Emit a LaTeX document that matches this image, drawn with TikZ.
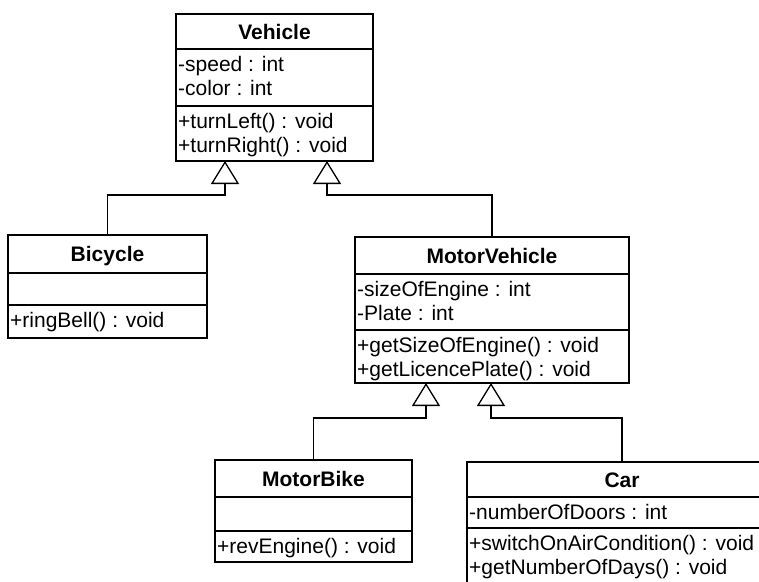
\documentclass[tikz,border=0pt]{standalone}
\usepackage{fontspec}
\setmainfont{Liberation Sans}
\usetikzlibrary{arrows.meta}
\tikzset{
  cls/.style={draw, line width=1.3pt, rectangle, inner sep=0pt, outer sep=0pt},
  txt/.style={anchor=base west, inner sep=0pt, font=\fontsize{21}{24}\selectfont},
  ttl/.style={anchor=base, inner sep=0pt, font=\fontsize{21}{24}\selectfont\bfseries},
  sepline/.style={line width=1.3pt},
  gen/.style={line width=1.3pt, -{Triangle[open, length=23pt, width=28pt]}},
}
\begin{document}
\begin{tikzpicture}[x=1pt,y=-1pt]
\useasboundingbox (0,0) rectangle (759,581);
\clip (0,0) rectangle (759,581);
\fill[white] (0,0) rectangle (759,581);

% Vehicle
\node[cls, minimum width=197pt, minimum height=147pt] (vehicle) at (274.5,87.5) {};
\draw[sepline] (176,49) -- (373,49);
\draw[sepline] (176,106) -- (373,106);
\node[ttl] (vehT) at (274.5,39) {Vehicle};
\node[txt] (vehA1) at (178,71) {-speed : int};
\node[txt] (vehA2) at (178,95) {-color : int};
\node[txt] (vehM1) at (178,128) {+turnLeft() : void};
\node[txt] (vehM2) at (178,152) {+turnRight() : void};

% Bicycle
\node[cls, minimum width=199pt, minimum height=103pt] (bicycle) at (107.5,286.5) {};
\draw[sepline] (8,273) -- (207,273);
\draw[sepline] (8,305) -- (207,305);
\node[ttl] (bicT) at (107.5,261.5) {Bicycle};
\node[txt] (bicM1) at (10,327) {+ringBell() : void};

% MotorVehicle
\node[cls, minimum width=274pt, minimum height=146pt] (motorvehicle) at (492,310) {};
\draw[sepline] (355,274) -- (629,274);
\draw[sepline] (355,330) -- (629,330);
\node[ttl] (mvT) at (492,263) {MotorVehicle};
\node[txt] (mvA1) at (357,296) {-sizeOfEngine : int};
\node[txt] (mvA2) at (357,320) {-Plate : int};
\node[txt] (mvM1) at (357,352) {+getSizeOfEngine() : void};
\node[txt] (mvM2) at (357,376) {+getLicencePlate() : void};

% MotorBike
\node[cls, minimum width=197pt, minimum height=102pt] (motorbike) at (313.5,511) {};
\draw[sepline] (215,497) -- (412,497);
\draw[sepline] (215,531) -- (412,531);
\node[ttl] (mbT) at (313.5,486) {MotorBike};
\node[txt] (mbM1) at (217,553) {+revEngine() : void};

% Car
\node[cls, minimum width=310pt, minimum height=122pt] (car) at (622,523) {};
\draw[sepline] (467,497) -- (777,497);
\draw[sepline] (467,528) -- (777,528);
\node[ttl] (carT) at (622,487) {Car};
\node[txt] (carA1) at (469,519) {-numberOfDoors : int};
\node[txt] (carM1) at (469,550) {+switchOnAirCondition() : void};
\node[txt] (carM2) at (469,574) {+getNumberOfDays() : void};

% generalisation connectors
\coordinate (vL) at (225,161);
\coordinate (jL) at (225,195);
\coordinate (vR) at (327,161);
\coordinate (jR) at (327,195);
\coordinate (mL) at (426,383);
\coordinate (kL) at (426,418);
\coordinate (mR) at (491,383);
\coordinate (kR) at (491,418);
\draw[gen] (bicycle.north) |- (jL) -- (vL);
\draw[gen] (motorvehicle.north) |- (jR) -- (vR);
\draw[gen] (motorbike.north) |- (kL) -- (mL);
\draw[gen] (car.north) |- (kR) -- (mR);
\end{tikzpicture}
\end{document}
